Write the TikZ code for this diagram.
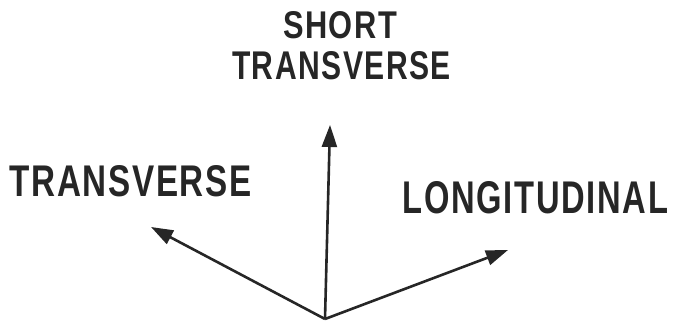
\documentclass[tikz,border=0pt]{standalone}
\usepackage{fontspec}
\setmainfont{Liberation Sans}
\newfontfamily\lblfont[LetterSpace=5]{Liberation Sans Bold}
\usetikzlibrary{arrows.meta}
\begin{document}
\begin{tikzpicture}[x=1pt,y=-1pt,
  lbl/.style={inner sep=0pt,outer sep=0pt,text=black!85},
  axis/.style={line width=2.6pt,draw=black!85,-{Triangle[length=22pt,width=15pt]}}]
\useasboundingbox (0,0) rectangle (683,326);
\node[lbl] (st1) at (340,25.5) {\resizebox{114pt}{27pt}{\lblfont SHORT}};
\node[lbl] (st2) at (341.5,66) {\resizebox{219pt}{28pt}{\lblfont TRANSVERSE}};
\node[lbl] (tr) at (130.5,181) {\resizebox{242pt}{31pt}{\lblfont TRANSVERSE}};
\node[lbl] (lo) at (535.5,198) {\resizebox{265pt}{32pt}{\lblfont LONGITUDINAL}};
\coordinate (o) at (325,319);
\coordinate (up) at (330,125);
\coordinate (lt) at (151,227);
\coordinate (rt) at (508,250);
\draw[axis] (o) -- (up);
\draw[axis] (o) -- (lt);
\draw[axis] (o) -- (rt);
\end{tikzpicture}
\end{document}
